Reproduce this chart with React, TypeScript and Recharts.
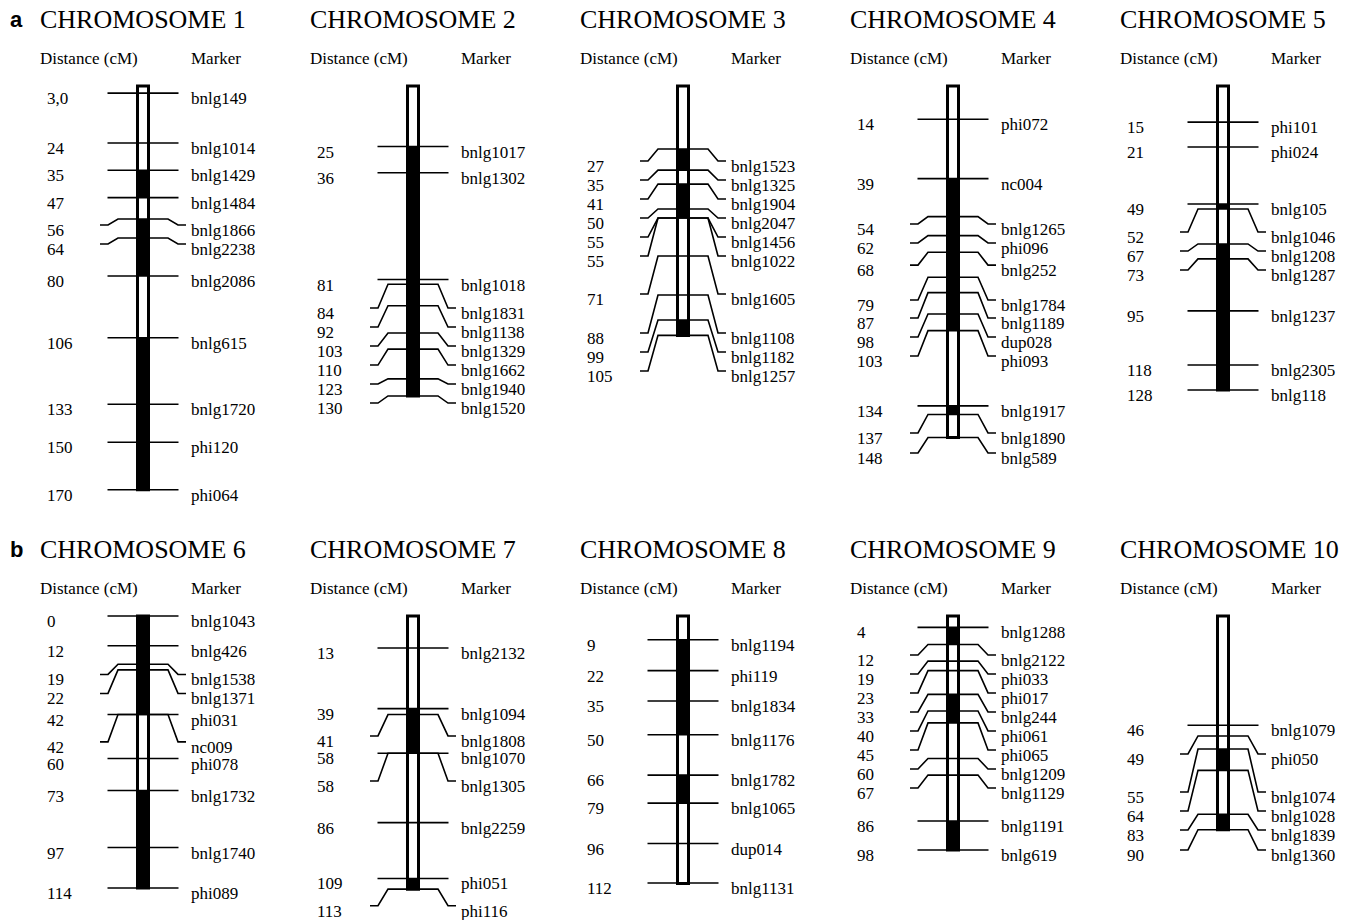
import { ComposedChart, XAxis, YAxis, Line, ReferenceArea, Scatter } from "recharts";

type Marker = { name: string; cM: string; at: number; row?: number };

// marker name, printed distance, position on the bar (cM), label row when it is moved off the bar position
const chr1: Marker[] = [
  { name: "bnlg149", cM: "3,0", at: 3 },
  { name: "bnlg1014", cM: "24", at: 24 },
  { name: "bnlg1429", cM: "35", at: 35.5 },
  { name: "bnlg1484", cM: "47", at: 47 },
  { name: "bnlg1866", cM: "56", at: 56, row: 58.5 },
  { name: "bnlg2238", cM: "64", at: 64, row: 66.5 },
  { name: "bnlg2086", cM: "80", at: 80 },
  { name: "bnlg615", cM: "106", at: 106 },
  { name: "bnlg1720", cM: "133", at: 134 },
  { name: "phi120", cM: "150", at: 150 },
  { name: "phi064", cM: "170", at: 170 },
];
const chr1Black = [[35.5, 47], [56, 80], [106, 170]];

const chr2: Marker[] = [
  { name: "bnlg1017", cM: "25", at: 25.5 },
  { name: "bnlg1302", cM: "36", at: 36.5 },
  { name: "bnlg1018", cM: "81", at: 81.5 },
  { name: "bnlg1831", cM: "84", at: 83.5, row: 93.5 },
  { name: "bnlg1138", cM: "92", at: 92.5, row: 101.5 },
  { name: "bnlg1329", cM: "103", at: 104, row: 109.5 },
  { name: "bnlg1662", cM: "110", at: 110.8, row: 117.5 },
  { name: "bnlg1940", cM: "123", at: 123.3, row: 125.5 },
  { name: "bnlg1520", cM: "130", at: 130.5, row: 133.5 },
];
const chr2Black = [[25.5, 130.5]];

const chr3: Marker[] = [
  { name: "bnlg1523", cM: "27", at: 26.5, row: 31.6 },
  { name: "bnlg1325", cM: "35", at: 35.4, row: 39.6 },
  { name: "bnlg1904", cM: "41", at: 41.3, row: 47.6 },
  { name: "bnlg2047", cM: "50", at: 51.8, row: 55.6 },
  { name: "bnlg1456", cM: "55", at: 55.6, row: 63.6 },
  { name: "bnlg1022", cM: "55", at: 55.6, row: 71.6 },
  { name: "bnlg1605", cM: "71", at: 71.6, row: 87.6 },
  { name: "bnlg1108", cM: "88", at: 88, row: 104 },
  { name: "bnlg1182", cM: "99", at: 98.5, row: 112 },
  { name: "bnlg1257", cM: "105", at: 105, row: 120 },
];
const chr3Black = [[26.5, 35.4], [41.3, 55.6], [98.5, 105]];

const chr4: Marker[] = [
  { name: "phi072", cM: "14", at: 14 },
  { name: "nc004", cM: "39", at: 39 },
  { name: "bnlg1265", cM: "54", at: 55, row: 58.1 },
  { name: "phi096", cM: "62", at: 63, row: 66.1 },
  { name: "bnlg252", cM: "68", at: 70, row: 75.4 },
  { name: "bnlg1784", cM: "79", at: 80.5, row: 90.1 },
  { name: "bnlg1189", cM: "87", at: 87, row: 97.7 },
  { name: "dup028", cM: "98", at: 96, row: 105.7 },
  { name: "phi093", cM: "103", at: 103, row: 113.7 },
  { name: "bnlg1917", cM: "134", at: 134.7 },
  { name: "bnlg1890", cM: "137", at: 138.3, row: 146.1 },
  { name: "bnlg589", cM: "148", at: 148, row: 154.5 },
];
const chr4Black = [[39, 103], [134.7, 138.3]];

const chr5: Marker[] = [
  { name: "phi101", cM: "15", at: 15.2 },
  { name: "phi024", cM: "21", at: 25.7 },
  { name: "bnlg105", cM: "49", at: 49.7 },
  { name: "bnlg1046", cM: "52", at: 51.8, row: 61.5 },
  { name: "bnlg1208", cM: "67", at: 66.5, row: 69.5 },
  { name: "bnlg1287", cM: "73", at: 72.8, row: 77.5 },
  { name: "bnlg1237", cM: "95", at: 94.7 },
  { name: "bnlg2305", cM: "118", at: 117.5 },
  { name: "bnlg118", cM: "128", at: 128 },
];
const chr5Black = [[49.7, 51.8], [66.5, 128]];

const chr6: Marker[] = [
  { name: "bnlg1043", cM: "0", at: 0 },
  { name: "bnlg426", cM: "12", at: 12.5 },
  { name: "bnlg1538", cM: "19", at: 20.3, row: 24.6 },
  { name: "bnlg1371", cM: "22", at: 22.7, row: 32.6 },
  { name: "phi031", cM: "42", at: 41.5 },
  { name: "nc009", cM: "42", at: 41.5, row: 53 },
  { name: "phi078", cM: "60", at: 60 },
  { name: "bnlg1732", cM: "73", at: 73.5 },
  { name: "bnlg1740", cM: "97", at: 97.5 },
  { name: "phi089", cM: "114", at: 114.5 },
];
const chr6Black = [[0, 41.5], [73.5, 114.5]];

const chr7: Marker[] = [
  { name: "bnlg2132", cM: "13", at: 13.5 },
  { name: "bnlg1094", cM: "39", at: 39 },
  { name: "bnlg1808", cM: "41", at: 41.5, row: 50.5 },
  { name: "bnlg1070", cM: "58", at: 57.8 },
  { name: "bnlg1305", cM: "58", at: 57.8, row: 69.5 },
  { name: "bnlg2259", cM: "86", at: 87 },
  { name: "phi051", cM: "109", at: 110.5 },
  { name: "phi116", cM: "113", at: 115, row: 122 },
];
const chr7Black = [[39, 57.8], [110.5, 115]];

const chr8: Marker[] = [
  { name: "bnlg1194", cM: "9", at: 10 },
  { name: "phi119", cM: "22", at: 23 },
  { name: "bnlg1834", cM: "35", at: 35.8 },
  { name: "bnlg1176", cM: "50", at: 50 },
  { name: "bnlg1782", cM: "66", at: 67 },
  { name: "bnlg1065", cM: "79", at: 78.8 },
  { name: "dup014", cM: "96", at: 95.8 },
  { name: "bnlg1131", cM: "112", at: 112.4 },
];
const chr8Black = [[10, 50], [67, 78.8]];

const chr9: Marker[] = [
  { name: "bnlg1288", cM: "4", at: 4.8 },
  { name: "bnlg2122", cM: "12", at: 12, row: 16.4 },
  { name: "phi033", cM: "19", at: 19, row: 24.4 },
  { name: "phi017", cM: "23", at: 23, row: 32.4 },
  { name: "bnlg244", cM: "33", at: 33, row: 40.4 },
  { name: "phi061", cM: "40", at: 40, row: 48.4 },
  { name: "phi065", cM: "45", at: 45, row: 56.4 },
  { name: "bnlg1209", cM: "60", at: 60, row: 64.4 },
  { name: "bnlg1129", cM: "67", at: 67, row: 72.4 },
  { name: "bnlg1191", cM: "86", at: 86.3 },
  { name: "bnlg619", cM: "98", at: 98.5 },
];
const chr9Black = [[4.8, 12], [33, 45], [86.3, 98.5]];

const chr10: Marker[] = [
  { name: "bnlg1079", cM: "46", at: 46 },
  { name: "phi050", cM: "49", at: 50.5, row: 58.1 },
  { name: "bnlg1074", cM: "55", at: 56, row: 74.1 },
  { name: "bnlg1028", cM: "64", at: 65, row: 82.1 },
  { name: "bnlg1839", cM: "83", at: 83.5, row: 90.1 },
  { name: "bnlg1360", cM: "90", at: 90, row: 98.5 },
];
const chr10Black = [[56, 65], [83.5, 90]];

const chrTitles = ["1", "2", "3", "4", "5", "6", "7", "8", "9", "10"];
const chrLengths = [170, 130.5, 105, 148, 128, 114.5, 115, 112.6, 98.5, 90];
const chrMarkers = [chr1, chr2, chr3, chr4, chr5, chr6, chr7, chr8, chr9, chr10];
const chrBlack = [chr1Black, chr2Black, chr3Black, chr4Black, chr5Black, chr6Black, chr7Black, chr8Black, chr9Black, chr10Black];

const SERIF = "'Liberation Serif', 'Times New Roman', serif";
const PX_PER_CM = 2.375;
const TOP = 86; // px from panel top to 0 cM
const PANEL_W = 270;
const HALF_BAR = 5.5;

function TextShape(props: any) {
  const { cx, cy, payload } = props;
  return (
    <text x={cx} y={cy + 11} fontFamily={SERIF} fontSize={17} fill="#000" textAnchor="start">
      {payload.text}
    </text>
  );
}

function markerPath(m: Marker) {
  if (m.row === undefined) {
    return [
      { x: -35.5, y: m.at },
      { x: 35.5, y: m.at },
    ];
  }
  return [
    { x: -43, y: m.row },
    { x: -35, y: m.row },
    { x: -25, y: m.at },
    { x: 25, y: m.at },
    { x: 35, y: m.row },
    { x: 43, y: m.row },
  ];
}

function Chromosome({ idx }: { idx: number }) {
  const col = idx % 5;
  const rowIdx = Math.floor(idx / 5);
  const left = col * PANEL_W;
  const top = rowIdx * 530;
  const height = rowIdx === 0 ? 510 : 390;
  const markers = chrMarkers[idx];
  const len = chrLengths[idx];
  const distText = markers.map((m) => ({ x: -96, y: m.row ?? m.at, text: m.cM }));
  const nameText = markers.map((m) => ({ x: 48, y: m.row ?? m.at, text: m.name }));

  return (
    <>
      <div
        style={{ position: "absolute", left: left + 40, top: top + 7, fontFamily: SERIF, fontSize: 26, lineHeight: "26px", whiteSpace: "pre" }}
      >
        {"CHROMOSOME " + chrTitles[idx]}
      </div>
      <div style={{ position: "absolute", left: left + 40, top: top + 50, fontFamily: SERIF, fontSize: 17, lineHeight: "17px", whiteSpace: "pre" }}>
        Distance (cM)
      </div>
      <div style={{ position: "absolute", left: left + 191, top: top + 50, fontFamily: SERIF, fontSize: 17, lineHeight: "17px" }}>
        Marker
      </div>
      <div style={{ position: "absolute", left, top, width: PANEL_W, height }}>
        <ComposedChart width={PANEL_W} height={height} margin={{ top: 0, right: 0, bottom: 0, left: 0 }}>
          <XAxis type="number" dataKey="x" domain={[-143, 127]} allowDataOverflow hide />
          <YAxis type="number" dataKey="y" domain={[-TOP / PX_PER_CM, (height - TOP) / PX_PER_CM]} reversed allowDataOverflow hide />
          <ReferenceArea x1={-HALF_BAR} x2={HALF_BAR} y1={0} y2={len} fill="none" stroke="#000" strokeWidth={3} ifOverflow="visible" />
          {chrBlack[idx].map(([a, b], i) => (
            <ReferenceArea key={"b" + i} x1={-HALF_BAR} x2={HALF_BAR} y1={a} y2={b} fill="#000" fillOpacity={1} stroke="none" ifOverflow="visible" />
          ))}
          {markers.map((m, i) => (
            <Line
              key={"m" + i}
              data={markerPath(m)}
              dataKey="y"
              type="linear"
              stroke="#000"
              strokeWidth={1.6}
              dot={false}
              activeDot={false}
              legendType="none"
              isAnimationActive={false}
            />
          ))}
          <Scatter data={distText} shape={TextShape} isAnimationActive={false} />
          <Scatter data={nameText} shape={TextShape} isAnimationActive={false} />
        </ComposedChart>
      </div>
    </>
  );
}

export default function App() {
  return (
    <div style={{ position: "absolute", left: 0, top: 0, width: 1350, height: 920, background: "#fff", overflow: "hidden" }}>
      {chrTitles.map((_, i) => (
        <Chromosome key={i} idx={i} />
      ))}
      <div style={{ position: "absolute", left: 10, top: 9, fontFamily: "'Liberation Sans', Arial, sans-serif", fontWeight: 700, fontSize: 22, lineHeight: "22px" }}>
        a
      </div>
      <div style={{ position: "absolute", left: 10, top: 539, fontFamily: "'Liberation Sans', Arial, sans-serif", fontWeight: 700, fontSize: 22, lineHeight: "22px" }}>
        b
      </div>
    </div>
  );
}
